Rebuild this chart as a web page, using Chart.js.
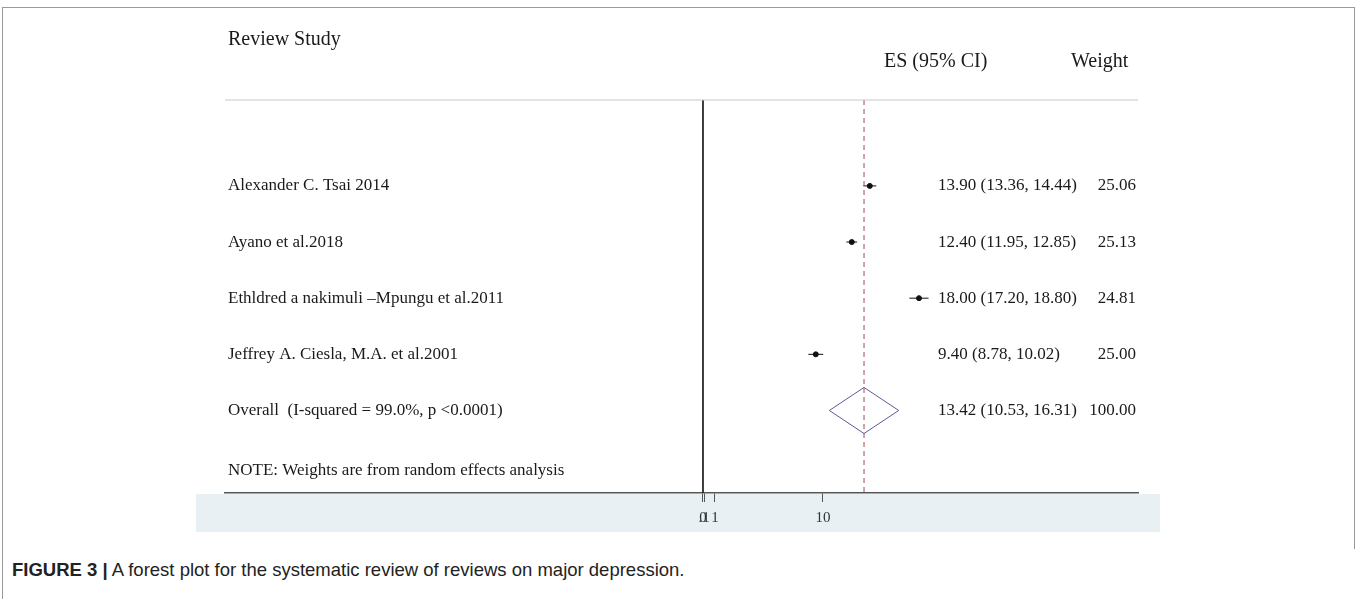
<!DOCTYPE html>
<html><head><meta charset="utf-8">
<script src="https://cdn.jsdelivr.net/npm/chart.js@4.4.0/dist/chart.umd.min.js"></script>
<style>
html,body{margin:0;padding:0;background:#fff;width:1357px;height:599px;overflow:hidden;}
#frame{position:absolute;left:2px;top:7px;width:1351px;height:541px;border-top:1.5px solid #9a9a9a;border-left:1.5px solid #9a9a9a;border-right:1.5px solid #9a9a9a;}
#leftbar{position:absolute;left:2px;top:548px;width:0;height:51px;border-left:1.5px solid #9a9a9a;}
#cv{position:absolute;left:0;top:0;}
#caption{position:absolute;left:12px;top:559px;font-family:'Liberation Sans Narrow','Liberation Sans',Arial,sans-serif;font-size:18.5px;color:#222;white-space:nowrap;}
</style></head><body>
<div id="frame"></div><div id="leftbar"></div>
<canvas id="cv" width="1357" height="548"></canvas>
<div id="caption"><b>FIGURE 3 |</b> A forest plot for the systematic review of reviews on major depression.</div>
<script>
// ---- data ----
const studies = ["Alexander C. Tsai 2014", "Ayano et al.2018", "Ethldred a nakimuli \u2013Mpungu et al.2011", "Jeffrey A. Ciesla, M.A. et al.2001"];
const es = [13.90, 12.40, 18.00, 9.40];
const ciLow = [13.36, 11.95, 17.20, 8.78];
const ciHigh = [14.44, 12.85, 18.80, 10.02];
const weights = [25.06, 25.13, 24.81, 25.00];
const rows = [1.53, 2.53, 3.53, 4.53];
const overallLabel = "Overall  (I-squared = 99.0%, p <0.0001)";
const overallES = 13.42, overallLow = 10.53, overallHigh = 16.31, overallWeight = 100.00;
const overallRow = 5.53;
const noteText = "NOTE: Weights are from random effects analysis";
const noteRow = 6.6;
const xTicks = [0, 0.1, 1, 10];
const xTickLabels = ["0", ".1", "1", "10"];
const xMin = -39.83, xMax = 36.25, yMin = 0, yMax = 7;

function fmt(v){ return v.toFixed(2); }

const datasets = [];
// header rule
datasets.push({type:'line', data:[{x:xMin,y:yMin},{x:xMax,y:yMin}], borderColor:'#c8c8c8', borderWidth:1, pointRadius:0, clip:false});
// null line
datasets.push({type:'line', data:[{x:0,y:yMin},{x:0,y:yMax}], borderColor:'#222', borderWidth:1, pointRadius:0, clip:false});
// overall dashed line
datasets.push({type:'line', data:[{x:overallES,y:yMin},{x:overallES,y:yMax}], borderColor:'#a04a58', borderWidth:1, borderDash:[5,4], pointRadius:0, clip:false});
// CIs
for (let i=0;i<studies.length;i++){
  datasets.push({type:'line', data:[{x:ciLow[i],y:rows[i]},{x:ciHigh[i],y:rows[i]}], borderColor:'#111', borderWidth:1, pointRadius:0, clip:false});
}
// points
datasets.push({type:'scatter', data:es.map((v,i)=>({x:v,y:rows[i]})), backgroundColor:'#111', borderColor:'#111', pointRadius:2.5, pointStyle:'circle', clip:false});
// diamond
const dh = 0.41;
datasets.push({type:'line', data:[{x:overallLow,y:overallRow},{x:overallES,y:overallRow-dh},{x:overallHigh,y:overallRow},{x:overallES,y:overallRow+dh},{x:overallLow,y:overallRow}], borderColor:'#5a5a98', borderWidth:1, pointRadius:0, tension:0, clip:false});

const textPlugin = {
  id:'forestText',
  beforeDraw(chart){
    const ctx = chart.ctx;
    ctx.save();
    ctx.fillStyle = '#e8f0f3';
    ctx.fillRect(196, 494, 964, 38);
    ctx.restore();
  },
  afterDatasetsDraw(chart){
    const ctx = chart.ctx, ys = chart.scales.y;
    ctx.save();
    ctx.fillStyle = '#1a1a1a';
    ctx.textBaseline = 'middle';
    ctx.font = '20px "Liberation Serif", "Times New Roman", serif';
    ctx.fillText("Review Study", 228, 40);
    ctx.fillText("ES (95% CI)", 884, 62);
    ctx.fillText("Weight", 1071, 62);
    ctx.font = '17px "Liberation Serif", "Times New Roman", serif';
    const wRight = 1136;
    for (let i=0;i<studies.length;i++){
      const y = ys.getPixelForValue(rows[i]);
      ctx.textAlign = 'left';
      ctx.fillText(studies[i], 228, y);
      ctx.fillText(fmt(es[i]) + " (" + fmt(ciLow[i]) + ", " + fmt(ciHigh[i]) + ")", 938, y);
      ctx.textAlign = 'right';
      ctx.fillText(fmt(weights[i]), wRight, y);
    }
    const yo = ys.getPixelForValue(overallRow);
    ctx.textAlign = 'left';
    ctx.fillText(overallLabel, 228, yo);
    ctx.fillText(fmt(overallES) + " (" + fmt(overallLow) + ", " + fmt(overallHigh) + ")", 938, yo);
    ctx.textAlign = 'right';
    ctx.fillText(fmt(overallWeight), wRight, yo);
    ctx.textAlign = 'left';
    ctx.fillText(noteText, 228, ys.getPixelForValue(noteRow));
    ctx.restore();
  }
};

new Chart(document.getElementById('cv'), {
  data:{datasets},
  options:{
    responsive:false, animation:false,
    layout:{padding:{left:225, right:219, top:100, bottom:15}},
    plugins:{legend:{display:false}, tooltip:{enabled:false}},
    scales:{
      x:{type:'linear', min:xMin, max:xMax,
        afterBuildTicks(s){ s.ticks = xTicks.map(v=>({value:v})); },
        afterFit(s){ s.height = 40; },
        grid:{display:true, drawOnChartArea:false, drawTicks:true, tickLength:9, color:'#555', lineWidth:1},
        border:{display:true, color:'#555', width:1.5},
        ticks:{autoSkip:false, maxRotation:0, padding:7, color:'#333',
          font:{family:'"Liberation Serif", "Times New Roman", serif', size:15},
          callback(v, i){ return xTickLabels[i]; }}
      },
      y:{type:'linear', min:yMin, max:yMax, reverse:true, display:false}
    }
  },
  plugins:[textPlugin]
});
</script>
</body></html>
